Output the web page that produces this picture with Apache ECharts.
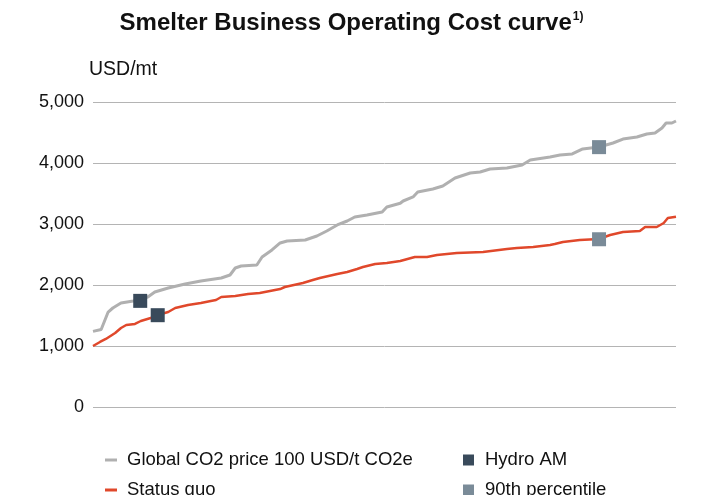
<!DOCTYPE html>
<html>
<head>
<meta charset="utf-8">
<script src="https://cdn.jsdelivr.net/npm/echarts@6/dist/echarts.min.js"></script>
<style>
  html, body { margin: 0; padding: 0; background: #fff; }
  #chart { width: 703px; height: 495px; }
</style>
</head>
<body>
<div id="chart"></div>
<script>
  // cumulative capacity share (%) and operating cost (USD/mt)
  var co2X = [0, 1.4, 2.6, 3.4, 4.8, 6.9, 9.4, 10.6, 12.9, 15.8, 18.5, 22.0, 23.5, 24.4, 25.4, 28.1, 29.0, 30.7, 32.1, 33.3, 36.4, 38.4, 40.1, 41.9, 43.6, 44.9, 47.0, 49.6, 50.4, 52.7, 53.2, 54.9, 55.7, 58.3, 60.0, 62.1, 64.7, 66.4, 68.1, 71.0, 73.6, 75.0, 78.4, 80.1, 82.2, 84.0, 86.8, 89.2, 90.9, 93.3, 95.0, 96.4, 97.6, 98.3, 99.3, 100];
  var co2Y = [1240, 1270, 1557, 1623, 1705, 1738, 1803, 1885, 1951, 2016, 2066, 2115, 2164, 2279, 2311, 2328, 2459, 2574, 2689, 2721, 2738, 2803, 2885, 2984, 3049, 3115, 3148, 3197, 3279, 3340, 3377, 3443, 3525, 3574, 3623, 3754, 3836, 3852, 3902, 3918, 3967, 4049, 4098, 4131, 4148, 4230, 4262, 4328, 4393, 4426, 4475, 4492, 4574, 4656, 4656, 4689];

  var sqX = [0, 1.2, 2.2, 3.8, 4.8, 5.7, 7.2, 8.2, 9.9, 11.1, 12.9, 14.1, 16.3, 18.5, 20.2, 21.1, 22.0, 24.4, 26.6, 28.6, 32.1, 32.9, 36.0, 37.7, 38.9, 41.9, 43.6, 45.3, 46.3, 48.4, 50.4, 52.7, 55.2, 57.3, 59.0, 62.4, 66.9, 71.0, 72.7, 75.5, 78.4, 79.2, 80.6, 83.5, 86.8, 88.7, 90.9, 93.8, 94.7, 96.7, 97.9, 98.6, 100];
  var sqY = [1000, 1066, 1115, 1213, 1295, 1344, 1361, 1410, 1459, 1508, 1557, 1623, 1672, 1705, 1738, 1754, 1803, 1820, 1852, 1869, 1934, 1967, 2033, 2082, 2115, 2180, 2213, 2262, 2295, 2344, 2361, 2393, 2459, 2459, 2492, 2525, 2541, 2590, 2607, 2623, 2656, 2672, 2705, 2738, 2754, 2820, 2869, 2885, 2951, 2951, 3016, 3098, 3120];

  var hydroX = [8.1, 11.1];
  var hydroY = [1740, 1505];
  var p90X = [86.8, 86.8];
  var p90Y = [4260, 2750];

  var yTicks = [0, 1000, 2000, 3000, 4000, 5000];

  function pairs(xs, ys) {
    return xs.map(function (x, i) { return [x, ys[i]]; });
  }

  var font = 'Liberation Sans, Arial, sans-serif';
  var chart = echarts.init(document.getElementById('chart'));
  var option = {
    animation: false,
    textStyle: { fontFamily: font },
    title: {
      text: '{t|Smelter Business Operating Cost curve}{s|1)}',
      left: 'center',
      top: 6,
      textStyle: {
        rich: {
          t: { fontSize: 24, fontWeight: 'bold', color: '#111', fontFamily: font },
          s: { fontSize: 12, fontWeight: 'bold', color: '#111', fontFamily: font, verticalAlign: 'top', padding: [0, 0, 12, 1] }
        }
      }
    },
    grid: { left: 93, right: 27, top: 102, bottom: 88 },
    legend: [{
      orient: 'vertical',
      left: 100,
      top: 445,
      height: 90,
      itemGap: 10,
      itemWidth: 12,
      itemHeight: 3,
      icon: 'rect',
      textStyle: { fontSize: 18.5, color: '#111', lineHeight: 20, padding: [0, 0, 0, 5] },
      data: ['Global CO2 price 100 USD/t CO2e', 'Status quo']
    }, {
      orient: 'vertical',
      left: 458,
      top: 445,
      height: 90,
      itemGap: 10,
      itemWidth: 11,
      itemHeight: 11,
      icon: 'rect',
      textStyle: { fontSize: 18.5, color: '#111', lineHeight: 20, padding: [0, 0, 0, 6] },
      data: ['Hydro AM', '90th percentile']
    }],
    xAxis: {
      type: 'value',
      min: 0,
      max: 100,
      show: false
    },
    yAxis: {
      type: 'value',
      min: 0,
      max: 5000,
      interval: 1000,
      name: 'USD/mt',
      nameLocation: 'end',
      nameGap: 22,
      nameTextStyle: { fontSize: 19.5, color: '#111', align: 'left', padding: [0, 0, 0, -4] },
      axisLine: { show: false },
      axisTick: { show: false },
      axisLabel: {
        fontSize: 18,
        color: '#111',
        margin: 9,
        formatter: function (v) { return yTicks.indexOf(v) >= 0 ? v.toLocaleString('en-US') : ''; }
      },
      splitLine: { lineStyle: { color: '#b4b4b4', width: 1 } }
    },
    series: [{
      name: 'Global CO2 price 100 USD/t CO2e',
      type: 'line',
      data: pairs(co2X, co2Y),
      showSymbol: false,
      color: '#b0b0b0',
      lineStyle: { width: 3, color: '#b0b0b0' },
      z: 2
    }, {
      name: 'Status quo',
      type: 'line',
      data: pairs(sqX, sqY),
      showSymbol: false,
      color: '#e0482b',
      lineStyle: { width: 2.5, color: '#e0482b' },
      z: 3
    }, {
      name: 'Hydro AM',
      type: 'scatter',
      data: pairs(hydroX, hydroY),
      symbol: 'rect',
      symbolSize: 14,
      color: '#394a5b',
      itemStyle: { opacity: 1 },
      z: 5
    }, {
      name: '90th percentile',
      type: 'scatter',
      data: pairs(p90X, p90Y),
      symbol: 'rect',
      symbolSize: 14,
      color: '#7a8b98',
      itemStyle: { opacity: 1 },
      z: 5
    }]
  };
  chart.setOption(option);
</script>
</body>
</html>
